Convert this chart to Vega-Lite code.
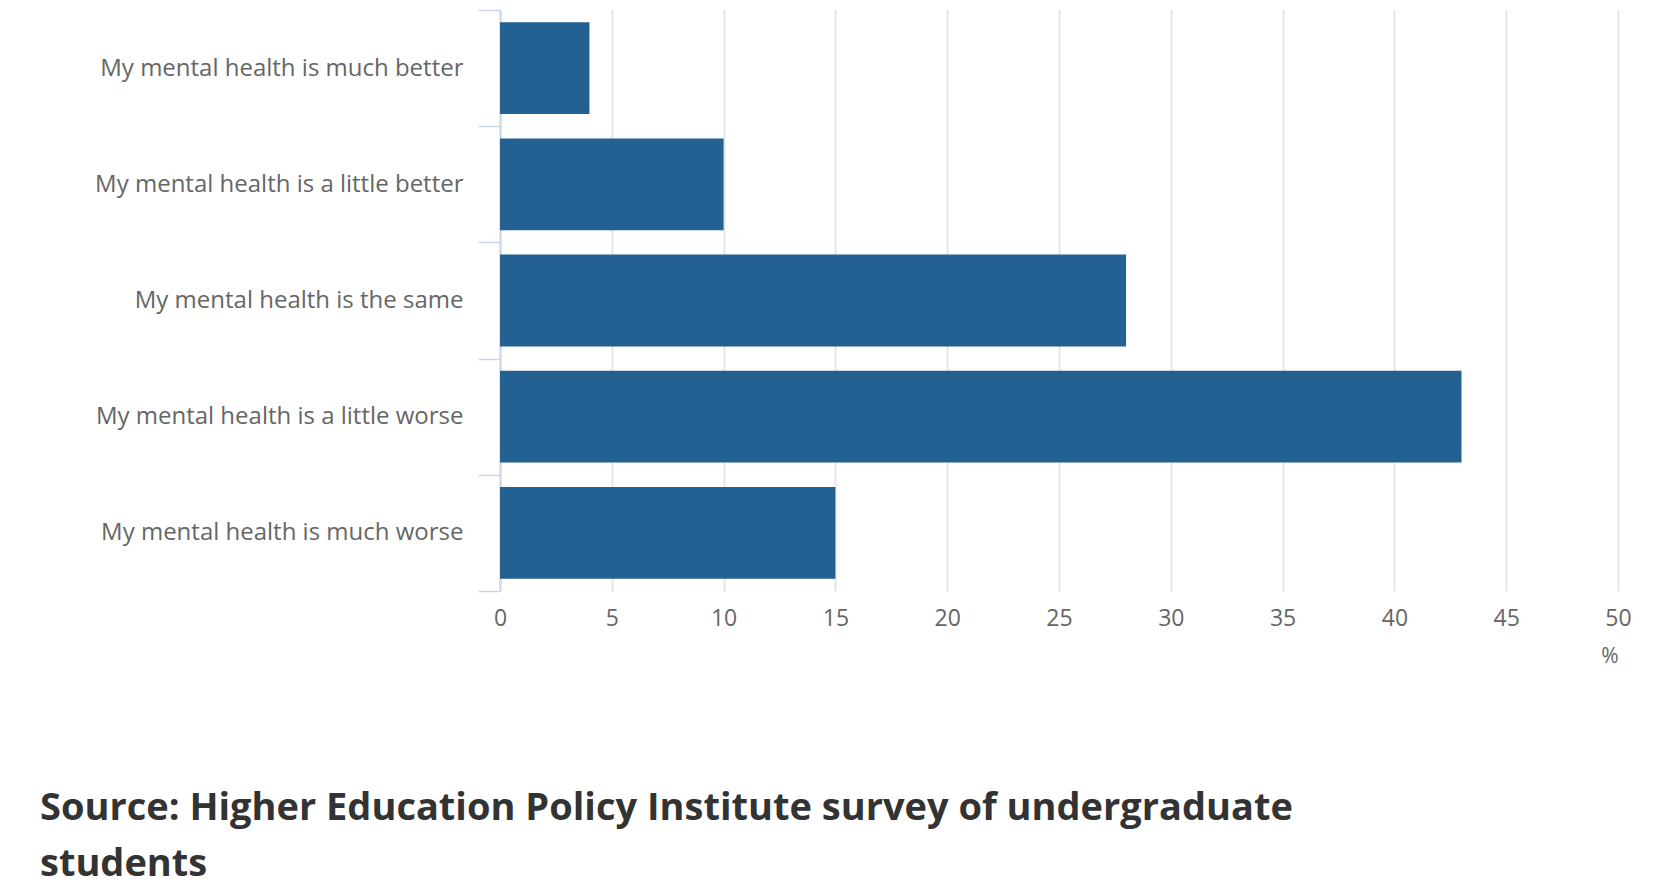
{
  "$schema": "https://vega.github.io/schema/vega-lite/v6.json",
  "autosize": "none",
  "width": 1118,
  "height": 581,
  "padding": {"left": 500, "top": 10, "right": 46, "bottom": 296},
  "background": "white",
  "config": {"view": {"stroke": null}, "font": "Open Sans"},
  "data": {
    "values": [
      {"response": "My mental health is much better", "pct": 4},
      {"response": "My mental health is a little better", "pct": 10},
      {"response": "My mental health is the same", "pct": 28},
      {"response": "My mental health is a little worse", "pct": 43},
      {"response": "My mental health is much worse", "pct": 15}
    ]
  },
  "title": {
    "text": ["Source: Higher Education Policy Institute survey of undergraduate", "students"],
    "orient": "bottom",
    "anchor": "start",
    "frame": "group",
    "dx": -460,
    "offset": 124,
    "font": "Open Sans",
    "fontSize": 38,
    "fontWeight": "bold",
    "color": "#333333",
    "lineHeight": 56
  },
  "mark": {"type": "bar", "color": "#236192", "height": {"band": 0.79}},
  "encoding": {
    "y": {
      "field": "response",
      "type": "nominal",
      "sort": null,
      "scale": {"paddingInner": 0, "paddingOuter": 0},
      "axis": {
        "title": null,
        "domainColor": "#ccd6eb",
        "domainWidth": 2,
        "tickColor": "#ccd6eb",
        "tickWidth": 1.5,
        "tickSize": 22,
        "tickBand": "extent",
        "labelPadding": 15,
        "labelFont": "Open Sans",
        "labelFontSize": 24,
        "labelColor": "#666666",
        "labelLimit": 600,
        "grid": false
      }
    },
    "x": {
      "field": "pct",
      "type": "quantitative",
      "scale": {"domain": [0, 50], "nice": false},
      "axis": {
        "values": [0, 5, 10, 15, 20, 25, 30, 35, 40, 45, 50],
        "title": "%",
        "titleAnchor": "end",
        "titleFont": "Open Sans",
        "titleFontSize": 21,
        "titleFontWeight": "normal",
        "titleColor": "#666666",
        "titlePadding": 15,
        "domain": false,
        "ticks": false,
        "labelFlush": false,
        "labelPadding": 16,
        "labelFont": "Open Sans",
        "labelFontSize": 23,
        "labelColor": "#666666",
        "grid": true,
        "gridColor": "#e6e6e6",
        "gridWidth": 2
      }
    }
  }
}
